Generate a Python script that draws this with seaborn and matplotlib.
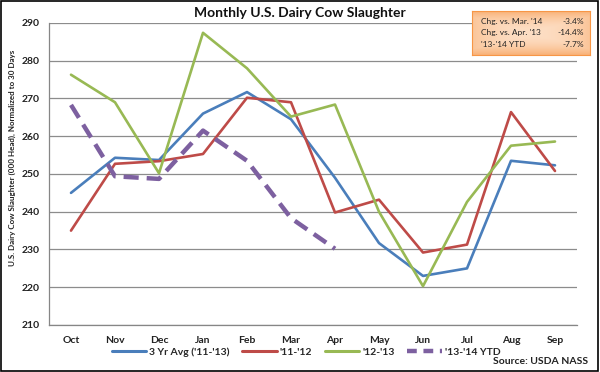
import numpy as np
import pandas as pd
import matplotlib
matplotlib.use("Agg")
import matplotlib.pyplot as plt
import seaborn as sns
from matplotlib.patches import Rectangle
from matplotlib.lines import Line2D

months = ["Oct", "Nov", "Dec", "Jan", "Feb", "Mar", "Apr", "May", "Jun", "Jul", "Aug", "Sep"]
avg_3yr = [245.0, 254.3, 253.7, 266.0, 271.7, 264.5, 249.0, 231.7, 223.0, 225.0, 253.5, 252.3]
y11_12 = [235.0, 252.7, 253.4, 255.3, 270.2, 269.0, 239.8, 243.2, 229.2, 231.3, 266.4, 250.8]
y12_13 = [276.3, 269.0, 250.2, 287.4, 278.0, 265.2, 268.4, 240.0, 220.3, 242.6, 257.5, 258.6]
y13_14 = [268.3, 249.4, 248.7, 261.5, 253.5, 238.3, 230.2]
series_names = ["3 Yr Avg ('11-'13)", "'11-'12", "'12-'13", "'13-'14 YTD"]
box_labels = ["Chg. vs. Mar. '14", "Chg. vs. Apr. '13", "'13-'14 YTD"]
box_values = ["-3.4%", "-14.4%", "-7.7%"]
yticks = [210, 220, 230, 240, 250, 260, 270, 280, 290]

rows = []
for name, vals in zip(series_names, [avg_3yr, y11_12, y12_13, y13_14]):
    for i, v in enumerate(vals):
        rows.append({"series": name, "pos": i, "month": months[i], "value": v})
df = pd.DataFrame(rows)

sns.set_theme(style="white")
plt.rcParams["font.family"] = ["Lato", "DejaVu Sans"]

colors = ["#4A7EBB", "#BE4B48", "#98B954", "#7D60A0"]

fig = plt.figure(figsize=(6.0, 3.72), dpi=100)
ax = fig.add_axes([49/600, 1-325/372, 528/600, 302/372])

for name, col in zip(series_names, colors):
    sub = df[df.series == name]
    if name == "'13-'14 YTD":
        sns.lineplot(data=sub, x="pos", y="value", ax=ax, color=col, lw=3.2,
                     linestyle=(0, (3.4, 1.8)), legend=False, zorder=3)
    else:
        sns.lineplot(data=sub, x="pos", y="value", ax=ax, color=col, lw=1.9,
                     legend=False, zorder=3)

ax.set_xlim(-0.5, 11.5)
ax.set_ylim(210, 290)
ax.set_yticks(yticks)
ax.set_yticklabels([str(t) for t in yticks], fontsize=7.5, fontweight="bold", color="#222222")
ax.set_xticks(np.arange(-0.5, 12, 1))
ax.set_xticklabels([])
ax.set_xticks(np.arange(12), minor=True)
ax.set_xticklabels(months, minor=True, fontsize=7.5, fontweight="bold", color="#222222")
ax.tick_params(axis="x", which="major", direction="out", length=4, width=0.8, color="#868686")
ax.tick_params(axis="x", which="minor", length=0, pad=8)
ax.tick_params(axis="y", direction="out", length=4, width=0.8, color="#868686", pad=3)
ax.yaxis.grid(True, color="#8C8C8C", lw=0.9)
ax.set_axisbelow(True)
for s in ["top", "right"]:
    ax.spines[s].set_visible(False)
for s in ["left", "bottom"]:
    ax.spines[s].set_color("#868686")
    ax.spines[s].set_linewidth(0.9)
ax.set_xlabel("")
ax.set_ylabel("U.S. Dairy Cow Slaughter (000 Head), Normalized to 30 Days",
              fontsize=5.8, fontweight="bold", color="#222222")
ax.yaxis.set_label_coords((16 - 49) / 528, (325 - 158) / 302)

fig.text(0.5, 1-13/372, "Monthly U.S. Dairy Cow Slaughter", ha="center", va="center",
         fontsize=10, fontweight="bold", color="#111111")

handles = [Line2D([0], [0], color=colors[0], lw=2.2),
           Line2D([0], [0], color=colors[1], lw=2.2),
           Line2D([0], [0], color=colors[2], lw=2.2),
           Line2D([0], [0], color=colors[3], lw=3.2, linestyle=(0, (2.2, 1.5)))]
fig.legend(handles, series_names, loc="center", bbox_to_anchor=(306/600, 1-352/372),
           ncol=4, frameon=False, handlelength=3.3, handletextpad=0.3,
           columnspacing=1.2, prop={"weight": "bold", "size": 7.5})

fig.text(588/600, 1-361/372, "Source: USDA NASS", ha="right", va="center",
         fontsize=7.5, fontweight="bold", color="#222222")

# annotation box with gradient
bx = fig.add_axes([472/600, 1-55/372, 118/600, 44/372])
yy, xx = np.mgrid[-1:1:60j, -1:1:160j]
r = np.clip(np.maximum(np.abs(xx) * 0.75, np.abs(yy)), 0, 1)
c0 = np.array([253, 222, 196]) / 255
c1 = np.array([249, 178, 120]) / 255
img = c0[None, None, :] * (1 - r[..., None] ** 2) + c1[None, None, :] * (r[..., None] ** 2)
bx.imshow(img, aspect="auto", extent=[0, 1, 0, 1])
bx.set_xlim(0, 1)
bx.set_ylim(0, 1)
bx.set_xticks([])
bx.set_yticks([])
for s in bx.spines.values():
    s.set_color("#F79646")
    s.set_linewidth(0.8)
for i, (lab, val) in enumerate(zip(box_labels, box_values)):
    yv = 0.77 - i * 0.265
    bx.text(0.08, yv, lab, ha="left", va="center", fontsize=6, color="#222222")
    bx.text(0.95, yv, val, ha="right", va="center", fontsize=6, color="#222222")

fig.patches.append(Rectangle((0.002, 0.003), 0.995, 0.994, transform=fig.transFigure,
                             fill=False, edgecolor="black", lw=1.2))

fig.savefig("out.png", dpi=100)
